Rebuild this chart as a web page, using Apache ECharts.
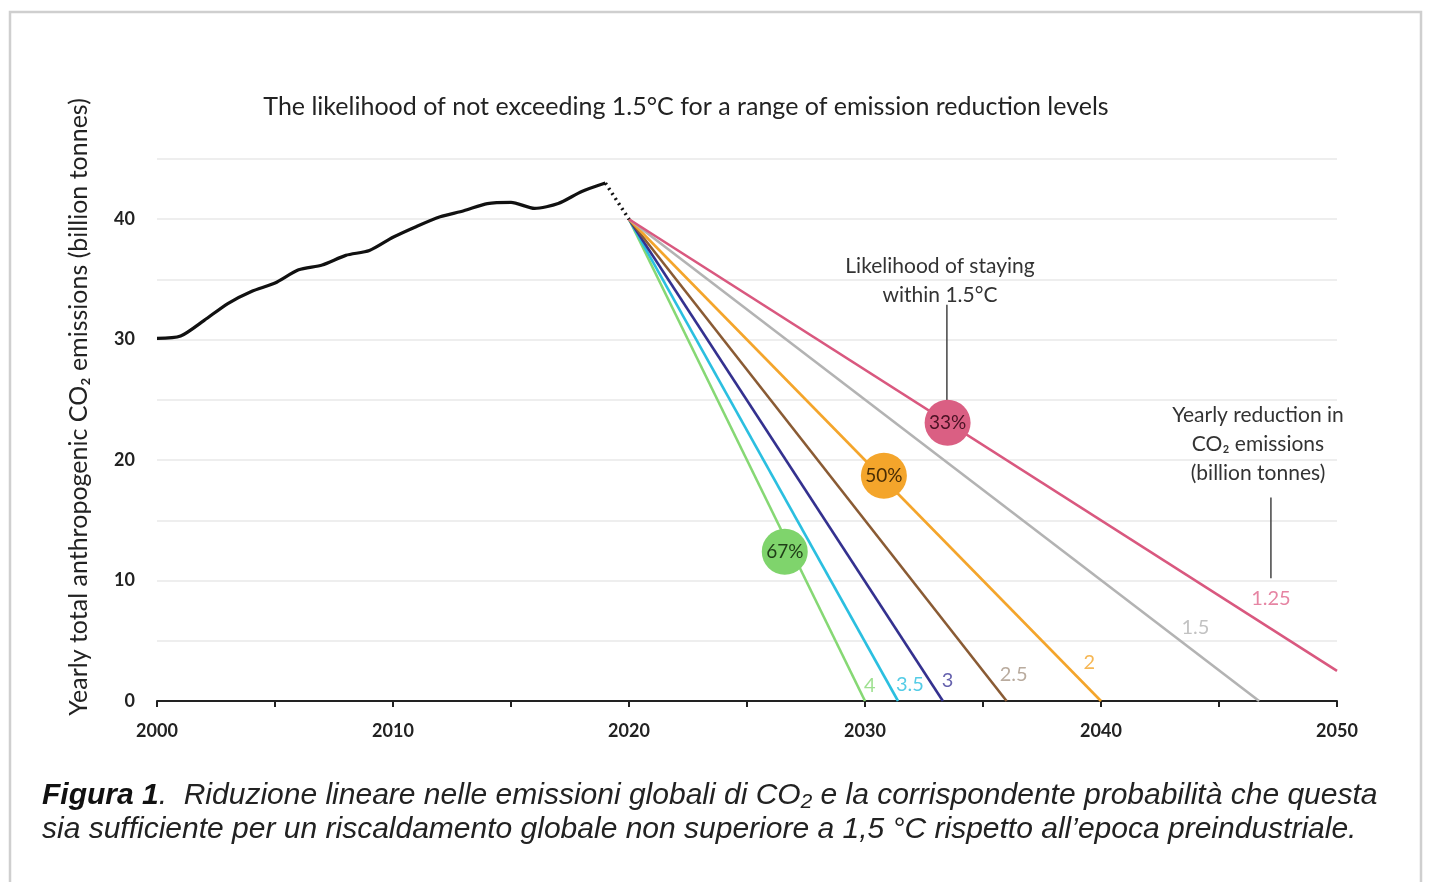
<!DOCTYPE html>
<html>
<head>
<meta charset="utf-8">
<script src="https://cdn.jsdelivr.net/npm/echarts@6/dist/echarts.min.js"></script>
<style>
html,body{margin:0;padding:0;background:#fff;}
#chart{width:1429px;height:882px;}
</style>
</head>
<body>
<div id="chart"></div>
<script>
// ---- Data ----
const histYears = [2000,2001,2002,2003,2004,2005,2006,2007,2008,2009,2010,2011,2012,2013,2014,2015,2016,2017,2018,2019];
const histValues = [30.1,30.3,31.6,33.0,34.0,34.7,35.8,36.2,37.0,37.4,38.5,39.4,40.2,40.7,41.3,41.4,40.9,41.3,42.3,43.0];
const bridge = [[2019,43.0],[2020,40.0]];
const reductionRates = ['4','3.5','3','2.5','2','1.5','1.25'];
const pathStart = [2020, 40];
const pathEnds = [[2030,0],[2031.4,0],[2033.3,0],[2036,0],[2040,0],[2046.7,0],[2050,2.5]];
const rateLabelPos = [[2030.2,1.25],[2031.9,1.4],[2033.5,1.7],[2036.3,2.2],[2039.5,3.2],[2044.0,6.1],[2047.2,8.5]];
const likelihoods = ['67%','50%','33%'];
const likelihoodPos = [[2026.6,12.4],[2030.8,18.7],[2033.5,23.1]];
const xTicks = [2000,2010,2020,2030,2040,2050];
const yTicks = [0,10,20,30,40];

// ---- Styles ----
const lineColors = ['#86d874','#2bbfe0','#34318f','#8a5b34','#f4a52b','#b3b3b3','#d9587f'];
const labelColors = ['#86d874','#2bbfe0','#3e3a99','#a89686','#f4a52b','#b3b3b3','#e0668c'];
const bubbleColors = ['#7fd46c','#f4a52b','#da5f83'];
const bubbleText = ['#1f3d17','#4b2e05','#4a1224'];
const FONT = 'Lato, "Open Sans", sans-serif';

const series = [];
series.push({
  type:'line', data: histYears.map((y,i)=>[y,histValues[i]]), symbol:'none', smooth:0.25,
  lineStyle:{color:'#111',width:3.2}, z:5
});
series.push({
  type:'line', data: bridge, symbol:'none',
  lineStyle:{color:'#111',width:3.5,type:[2,4]}, z:5
});
reductionRates.forEach((r,i)=>{
  series.push({
    type:'line', data:[pathStart, pathEnds[i]], symbol:'none',
    lineStyle:{color:lineColors[i], width:2.6}, z:3
  });
});
series.push({
  type:'scatter', symbolSize:0, silent:true,
  data: rateLabelPos.map((p,i)=>({value:p, label:{show:true, formatter:reductionRates[i], color:labelColors[i], fontSize:20, fontFamily:FONT, position:'inside'}})),
  z:6
});
series.push({
  type:'scatter', symbolSize:46, silent:true,
  data: likelihoodPos.map((p,i)=>({value:p, itemStyle:{color:bubbleColors[i], opacity:1}, label:{show:true, formatter:likelihoods[i], color:bubbleText[i], fontSize:19, fontFamily:FONT, position:'inside'}})),
  z:10
});
// annotation pointer lines
series.push({type:'line', data:[[2033.47,32.9],[2033.47,25.0]], symbol:'none', lineStyle:{color:'#444',width:1.5}, z:4});
series.push({type:'line', data:[[2047.2,16.9],[2047.2,10.2]], symbol:'none', lineStyle:{color:'#444',width:1.5}, z:4});

const chart = echarts.init(document.getElementById('chart'));
chart.setOption({
  animation:false,
  backgroundColor:'#fff',
  grid:{left:157, right:92, top:159, bottom:181, containLabel:false},
  xAxis:{
    type:'value', min:2000, max:2050, interval:5,
    axisLine:{show:true, lineStyle:{color:'#222', width:2}},
    axisTick:{show:true, length:6, inside:false, lineStyle:{color:'#222', width:2}},
    splitLine:{show:false},
    axisLabel:{color:'#222', fontSize:18, fontWeight:'bold', fontFamily:FONT, margin:21,
      formatter:v=> xTicks.includes(v) ? String(v) : ''}
  },
  yAxis:{
    type:'value', min:0, max:45, interval:5,
    axisLine:{show:false}, axisTick:{show:false},
    splitLine:{show:true, lineStyle:{color:'#eeeeee', width:2}},
    axisLabel:{color:'#222', fontSize:18, fontWeight:'bold', fontFamily:FONT, margin:22,
      formatter:v=> yTicks.includes(v) ? String(v) : ''}
  },
  series: series,
  graphic:[
    {type:'rect', shape:{x:10,y:12,width:1411,height:880}, style:{fill:'none', stroke:'#cfcfcf', lineWidth:2.5}, silent:true},
    {type:'text', x:79, y:407, rotation:Math.PI/2, style:{text:'Yearly total anthropogenic CO₂ emissions (billion tonnes)', fill:'#222', fontSize:25, fontFamily:FONT, textAlign:'center', textVerticalAlign:'middle'}},
    {type:'text', x:686, y:107, style:{text:'The likelihood of not exceeding 1.5°C for a range of emission reduction levels', fill:'#222', fontSize:25, fontFamily:FONT, textAlign:'center', textVerticalAlign:'middle'}},
    {type:'text', x:940, y:281, style:{text:'Likelihood of staying\nwithin 1.5°C', fill:'#333', fontSize:21, fontFamily:FONT, textAlign:'center', textVerticalAlign:'middle', lineHeight:29}},
    {type:'text', x:1258, y:444, style:{text:'Yearly reduction in\nCO₂ emissions\n(billion tonnes)', fill:'#333', fontSize:21, fontFamily:FONT, textAlign:'center', textVerticalAlign:'middle', lineHeight:29}},
    {type:'text', x:42, y:813, style:{
      text:'{b|Figura 1}{n|.  Riduzione lineare nelle emissioni globali di CO₂ e la corrispondente probabilità che questa}\n{n|sia sufficiente per un riscaldamento globale non superiore a 1,5 °C rispetto all’epoca preindustriale.}',
      rich:{
        b:{fontSize:30, fontStyle:'italic', fontWeight:'bold', fontFamily:'"Liberation Sans", Arial, sans-serif', fill:'#111', lineHeight:34},
        n:{fontSize:30, fontStyle:'italic', fontFamily:'"Liberation Sans", Arial, sans-serif', fill:'#222', lineHeight:34}
      },
      textVerticalAlign:'middle'
    }}
  ]
});
</script>
</body>
</html>
